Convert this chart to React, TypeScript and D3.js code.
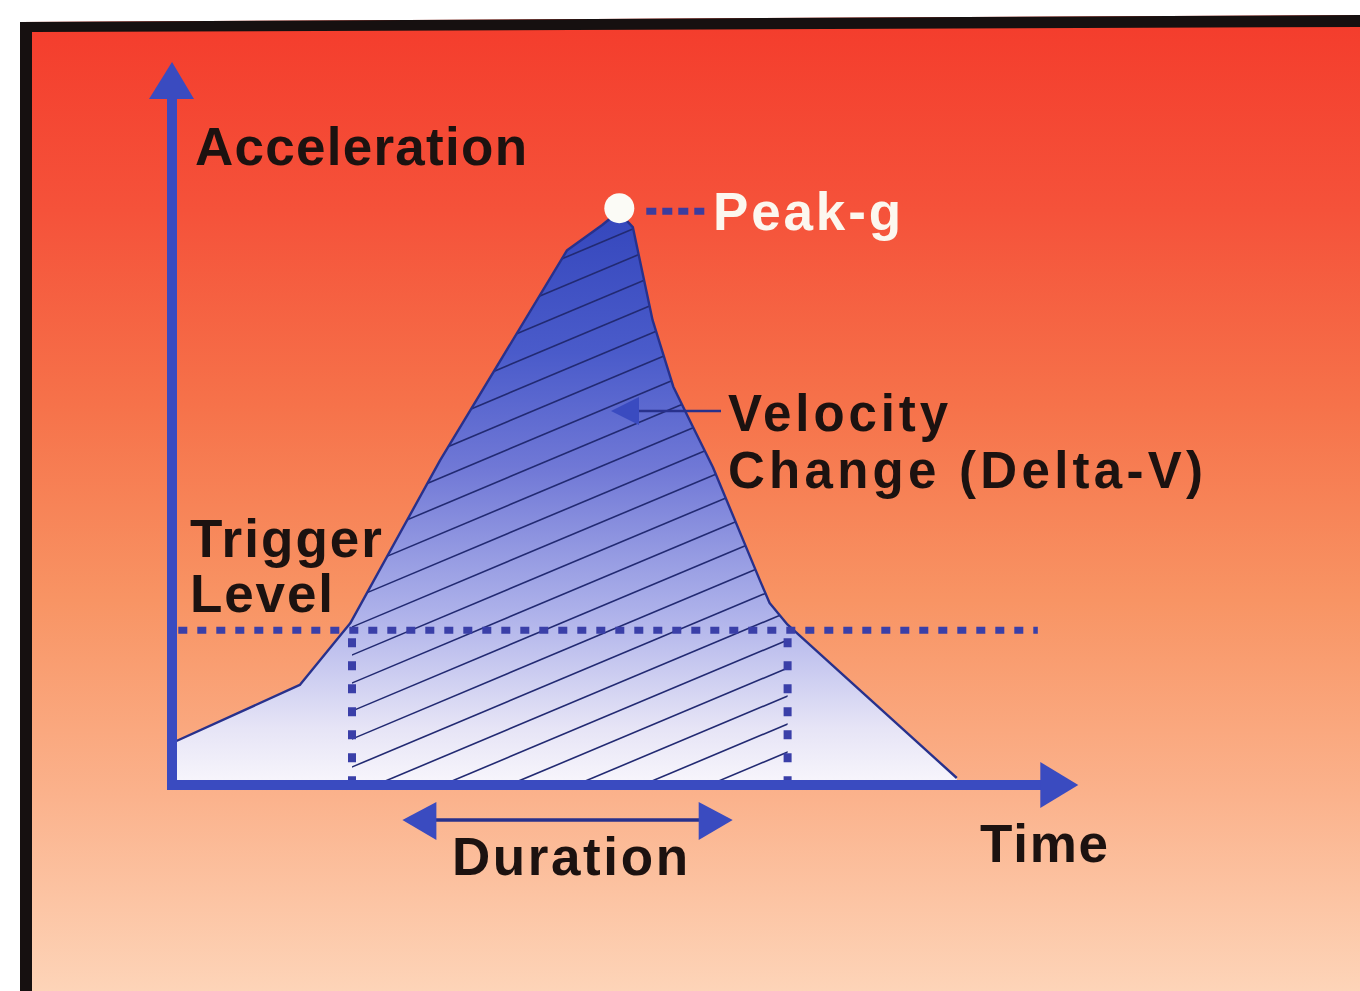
import React, { useEffect } from 'react';
import * as d3 from 'd3';

// ---- data (time, acceleration) ----
const curveTime = [0, 1.42, 1.98, 2.98, 4.39, 4.78, 4.96, 5.12, 5.34, 5.57, 5.79, 6.01, 6.53, 6.64, 6.84, 8.72];
const curveAccel = [0.6, 1.43, 2.31, 4.64, 7.64, 8.0, 8.19, 7.97, 6.64, 5.69, 5.11, 4.54, 2.93, 2.6, 2.29, 0.1];
const triggerLevel = 2.21;
const triggerStart = 0.07;
const triggerEnd = 9.62;
const windowStart = 2.0;
const windowEnd = 6.84;
const peakTime = 4.97;
const peakAccel = 8.24;
const durationArrow = [2.56, 6.23];
const axisMaxTime = 10.07;
const axisMaxAccel = 10.33;

const labels = {
  yAxis: 'Acceleration',
  xAxis: 'Time',
  peak: 'Peak-g',
  velocity1: 'Velocity',
  velocity2: 'Change (Delta-V)',
  trigger1: 'Trigger',
  trigger2: 'Level',
  duration: 'Duration',
};

const W = 1360;
const H = 991;

export default function App() {
  useEffect(() => {
    document.body.style.margin = '0';
  }, []);

  const x = d3.scaleLinear().domain([0, 10]).range([172, 1072]);
  const y = d3.scaleLinear().domain([0, 10]).range([785, 85]);

  const pts: [number, number][] = curveTime.map((t, i) => [t, curveAccel[i]]);
  const area = d3
    .area<[number, number]>()
    .x((d) => x(d[0]))
    .y0(y(0))
    .y1((d) => y(d[1]));
  const line = d3
    .line<[number, number]>()
    .x((d) => x(d[0]))
    .y((d) => y(d[1]));

  const blue = '#3a4bc0';
  const navy = '#28318c';
  const ink = '#1c1210';
  const font = "'Liberation Sans', Arial, Helvetica, sans-serif";

  // hatch lines
  const slope = 0.42;
  const spacing = 28;
  const hx0 = x(windowStart);
  const hx1 = x(windowEnd);
  const hatch = d3.range(-9, 21).map((k) => {
    const yy0 = 767 - spacing * k;
    return { x1: hx0 - 5, y1: yy0 + 5 * slope, x2: hx1 + 5, y2: yy0 - (hx1 - hx0 + 5) * slope };
  });

  const ax0 = x(0);
  const ay0 = y(0);
  const axTipX = x(axisMaxTime);
  const ayTipY = y(axisMaxAccel);

  const textProps = {
    fontFamily: font,
    fontWeight: 700 as const,
    fontSize: 53,
    lengthAdjust: 'spacing' as const,
  };

  return (
    <svg
      width={W}
      height={H}
      viewBox={`0 0 ${W} ${H}`}
      style={{ position: 'absolute', left: 0, top: 0, display: 'block' }}
    >
      <defs>
        <linearGradient id="bg" x1="0" y1="15" x2="0" y2={H} gradientUnits="userSpaceOnUse">
          <stop offset="0" stopColor="#f43c2c" />
          <stop offset="0.2" stopColor="#f5523a" />
          <stop offset="0.4" stopColor="#f6724a" />
          <stop offset="0.6" stopColor="#f89464" />
          <stop offset="0.8" stopColor="#fbb28c" />
          <stop offset="1" stopColor="#fdd4b8" />
        </linearGradient>
        <linearGradient id="fillGrad" x1="0" y1={y(peakAccel)} x2="0" y2={y(0)} gradientUnits="userSpaceOnUse">
          <stop offset="0" stopColor="#3446bc" />
          <stop offset="0.25" stopColor="#4a5bca" />
          <stop offset="0.45" stopColor="#7078d6" />
          <stop offset="0.7" stopColor="#adb1ea" />
          <stop offset="0.9" stopColor="#e6e4f6" />
          <stop offset="1" stopColor="#f8f6fc" />
        </linearGradient>
        <clipPath id="areaClip">
          <path d={area(pts) || ''} />
        </clipPath>
        <clipPath id="bandClip">
          <rect x={hx0} y={0} width={hx1 - hx0} height={H} />
        </clipPath>
      </defs>

      <rect x={0} y={0} width={W} height={H} fill="#ffffff" />
      <polygon points={`20,22 ${W},15 ${W},${H} 20,${H}`} fill="url(#bg)" />
      <polygon points={`20,22 ${W},15 ${W},27 32,32 32,${H} 20,${H}`} fill="#161010" />

      {/* area */}
      <path d={area(pts) || ''} fill="url(#fillGrad)" />
      <g clipPath="url(#areaClip)">
        <g clipPath="url(#bandClip)">
          {hatch.map((h, i) => (
            <line key={i} x1={h.x1} y1={h.y1} x2={h.x2} y2={h.y2} stroke="#222a72" strokeWidth={1.6} />
          ))}
        </g>
      </g>
      <path d={line(pts) || ''} fill="none" stroke={navy} strokeWidth={2.4} strokeLinejoin="round" />

      {/* trigger level dotted line */}
      <line
        x1={x(triggerStart)}
        x2={x(triggerEnd)}
        y1={y(triggerLevel)}
        y2={y(triggerLevel)}
        stroke="#3a3fa8"
        strokeWidth={7}
        strokeDasharray="9 10"
      />
      {[windowStart, windowEnd].map((t, i) => (
        <line
          key={i}
          x1={x(t)}
          x2={x(t)}
          y1={y(triggerLevel) + 8}
          y2={ay0 - 4}
          stroke="#3a3fa8"
          strokeWidth={8}
          strokeDasharray="9 14"
        />
      ))}

      {/* axes */}
      <line x1={ax0} x2={ax0} y1={ay0 + 5} y2={ayTipY + 34} stroke={blue} strokeWidth={10} />
      <polygon points={`${ax0 - 23},${ayTipY + 37} ${ax0},${ayTipY} ${ax0 + 22},${ayTipY + 37}`} fill={blue} />
      <line x1={ax0 - 5} x2={axTipX - 34} y1={ay0} y2={ay0} stroke={blue} strokeWidth={10} />
      <polygon points={`${axTipX - 38},${ay0 - 23} ${axTipX},${ay0} ${axTipX - 38},${ay0 + 23}`} fill={blue} />

      {/* peak marker */}
      <line
        x1={x(peakTime) + 27}
        x2={x(peakTime) + 87}
        y1={y(peakAccel) + 3}
        y2={y(peakAccel) + 3}
        stroke="#3c3c9e"
        strokeWidth={7}
        strokeDasharray="10 6"
      />
      <circle cx={x(peakTime)} cy={y(peakAccel)} r={15} fill="#fbfbf6" />

      {/* velocity pointer */}
      <line x1={636} x2={721} y1={411} y2={411} stroke={navy} strokeWidth={2.5} />
      <polygon points="611,411 639,397 639,425" fill={blue} />

      {/* duration arrow */}
      <line x1={x(durationArrow[0]) + 30} x2={x(durationArrow[1]) - 30} y1={820} y2={820} stroke={navy} strokeWidth={3.5} />
      <polygon
        points={`${x(durationArrow[0])},820 ${x(durationArrow[0]) + 34},802 ${x(durationArrow[0]) + 34},840`}
        fill={blue}
      />
      <polygon
        points={`${x(durationArrow[1])},820 ${x(durationArrow[1]) - 34},802 ${x(durationArrow[1]) - 34},840`}
        fill={blue}
      />

      {/* labels */}
      <text {...textProps} x={195} y={165} textLength={332} fill={ink}>{labels.yAxis}</text>
      <text {...textProps} x={713} y={230} textLength={188} fill="#fcf7ef">{labels.peak}</text>
      <text {...textProps} fontSize={51} x={728} y={431} textLength={220} fill={ink}>{labels.velocity1}</text>
      <text {...textProps} fontSize={51} x={728} y={488} textLength={475} fill={ink}>{labels.velocity2}</text>
      <text {...textProps} x={190} y={557} textLength={192} fill={ink}>{labels.trigger1}</text>
      <text {...textProps} x={190} y={612} textLength={143} fill={ink}>{labels.trigger2}</text>
      <text {...textProps} x={452} y={875} textLength={236} fill={ink}>{labels.duration}</text>
      <text {...textProps} x={980} y={862} textLength={128} fill={ink}>{labels.xAxis}</text>
    </svg>
  );
}
